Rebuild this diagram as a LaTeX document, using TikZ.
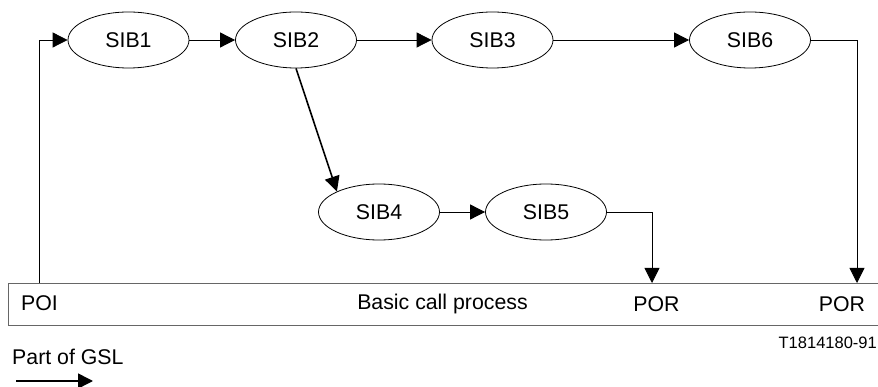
\documentclass[tikz,border=0pt]{standalone}
\usepackage{fontspec}
\setmainfont{Liberation Sans}
\usetikzlibrary{shapes.geometric,arrows.meta}
\begin{document}
\begin{tikzpicture}[x=1pt,y=-1pt,
  sib/.style={draw, ellipse, line width=0.8pt, minimum width=121pt, minimum height=56pt, inner sep=0pt, font=\fontsize{21.3}{25}\selectfont},
  flow/.style={line width=0.8pt, -{Triangle[length=15pt,width=15pt]}},
  lbl/.style={inner sep=0pt, font=\fontsize{21.3}{25}\selectfont},
  small/.style={inner sep=0pt, font=\fontsize{16.5}{20}\selectfont}]
\useasboundingbox (0,0) rectangle (878,387);

% service independent building blocks
\node[sib] (s1) at (128.5,40) {SIB1};
\node[sib] (s2) at (296,40) {SIB2};
\node[sib] (s3) at (492.5,40) {SIB3};
\node[sib] (s6) at (750,40) {SIB6};
\node[sib] (s4) at (379,212) {SIB4};
\node[sib] (s5) at (546,212) {SIB5};

% basic call process bar (open on the right)
\draw[gray!80!black, line width=0.9pt] (878,283) -- (8,283) -- (8,325.5) -- (878,325.5);
\node[lbl, anchor=west] (poi) at (21,303) {POI};
\node[lbl] (bcp) at (442.5,304) {Basic call process};
\node[lbl] (por1) at (656.5,304) {POR};
\node[lbl] (por2) at (842,304) {POR};

% attachment points on the bar
\coordinate (poiPt) at (39,283);
\coordinate (r1) at (652,283);
\coordinate (r2) at (857,283);

% global service logic
\draw[flow] (poiPt) -- (poiPt |- s1.west) -- (s1.west);
\draw[flow] (s1) -- (s2);
\draw[flow] (s2) -- (s3);
\draw[flow] (s3) -- (s6);
\draw[flow, line width=1.6pt] (s2.south) -- (s4.154);
\draw[flow] (s4) -- (s5);
\draw[flow] (s5.east) -- (s5.east -| r1) -- (r1);
\draw[flow] (s6.east) -- (s6.east -| r2) -- (r2);

% figure reference
\node[small, anchor=east] (ref) at (877,343) {T1814180-91};

% legend
\node[lbl, anchor=west] (legend) at (12,357) {Part of GSL};
\coordinate (la) at (16,381);
\coordinate (lb) at (93,381);
\draw[line width=1.6pt, -{Triangle[length=15pt,width=15pt]}] (la) -- (lb);
\end{tikzpicture}
\end{document}
